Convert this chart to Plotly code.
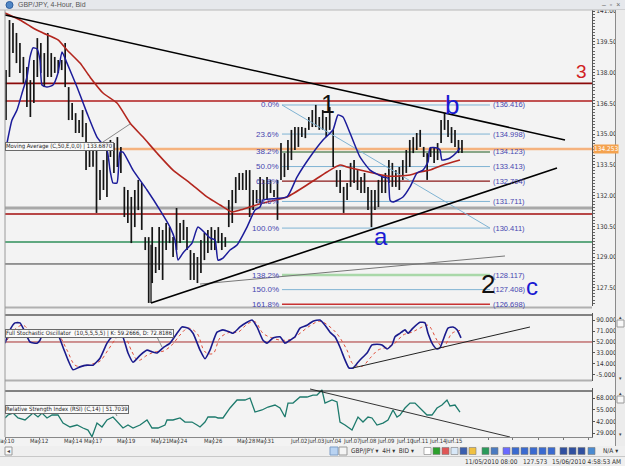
import plotly.graph_objects as go

# ---------------- data ----------------
bar_high = [138.12, 140.56, 140.41, 139.93, 139.44,
            138.76, 138.27, 137.63, 138.61, 139.68, 139.44, 138.95, 139.93, 138.95, 138.76,
            138.61, 138.61, 139.44, 137.29, 136.51, 136.02, 135.68, 136.17, 135.54, 134.22,
            134.40, 134.22, 133.24, 133.73,
            134.22, 134.71, 134.56, 134.85, 134.37, 132.42, 132.27, 131.93, 132.27, 132.76,
            132.61, 129.97, 129.97, 130.46, 129.49, 130.46, 130.32, 130.66, 130.46, 129.97,
            131.39, 130.66, 130.81, 130.46, 129.34, 129.20, 129.00, 129.83, 130.17, 130.32,
            130.46, 130.32, 130.46, 130.17, 129.97, 131.78, 132.27, 132.90, 133.10, 133.10,
            133.24, 133.24, 132.27, 132.27, 132.90, 132.76, 132.90, 132.76, 132.27, 132.76,
            134.56, 134.07, 134.71, 135.20, 135.34, 135.34, 135.34, 135.30, 135.83, 136.17,
            136.42, 135.83, 136.17, 135.83, 136.32, 135.20, 133.24, 133.24, 132.42, 132.61,
            133.59, 133.73, 133.24, 132.90, 133.10, 132.42, 132.27, 132.27, 132.76, 132.90,
            133.10, 133.73, 133.59, 133.24, 133.39, 133.73, 134.22, 134.71, 134.85, 135.05,
            135.20, 134.37, 134.07, 134.37, 134.37, 134.56, 135.68, 136.02, 135.68, 135.34,
            135.20, 134.71, 134.71]
bar_low = [135.68, 137.78, 138.95, 138.46, 137.98,
           137.49, 136.32, 135.83, 136.51, 137.78, 137.98, 137.29, 137.78, 137.78, 137.98,
           137.98, 138.12, 137.29, 135.68, 135.68, 135.05, 135.05, 134.85, 133.24, 133.39,
           133.40, 131.15, 131.78, 132.27,
           131.93, 133.88, 133.10, 133.39, 133.10, 130.95, 130.66, 129.68, 130.46, 131.29,
           130.32, 129.34, 126.76, 127.73, 128.22, 128.37, 127.88, 129.34, 129.68, 129.00,
           129.34, 129.68, 129.83, 129.34, 127.88, 127.88, 127.73, 128.22, 128.85, 129.20,
           129.34, 129.34, 129.68, 129.34, 129.49, 130.46, 130.66, 131.63, 132.27, 132.27,
           132.27, 130.95, 131.29, 131.63, 131.63, 131.78, 131.78, 132.12, 131.93, 130.81,
           132.76, 132.90, 133.24, 133.73, 134.22, 134.37, 134.85, 134.80, 135.20, 135.34,
           135.34, 135.20, 135.20, 134.85, 135.20, 133.39, 132.42, 132.12, 131.15, 131.78,
           132.42, 132.61, 132.27, 132.12, 132.12, 131.29, 130.46, 131.29, 131.44, 132.12,
           132.12, 132.61, 132.42, 132.42, 132.27, 132.76, 133.10, 133.39, 134.07, 134.22,
           134.37, 133.88, 132.76, 133.88, 133.59, 133.73, 134.56, 135.20, 134.85, 134.56,
           134.37, 134.07, 134.07]

ema50_t = [-0.29, 4.02, 7.76, 10.63, 14.94, 17.53, 21.26, 24.13, 27.87, 31.89, 35.63, 39.36,
           43.38, 47.98, 52.86, 57.75, 61.48, 64.93, 67.23, 70.10, 73.84, 80.73, 87.34, 92.22,
           95.96, 97.97, 101.70, 105.44, 109.46, 113.20, 116.07, 118.94, 121.82, 125.55, 130.43]
ema50_v = [140.90, 140.56, 140.17, 139.93, 139.59, 139.10, 138.46, 137.78, 137.00, 136.51,
           135.54, 134.85, 134.07, 133.24, 132.61, 131.93, 131.54, 131.20, 131.29, 131.44,
           131.63, 131.93, 132.61, 133.15, 133.49, 133.39, 133.24, 133.10, 132.95, 132.95,
           133.00, 133.15, 133.24, 133.49, 133.73]

fast_t = [0.29, 1.72, 3.16, 4.88, 6.03, 6.90, 7.76, 8.91, 9.77, 10.34, 11.78, 13.50, 14.94,
          16.09, 17.53, 20.40, 23.27, 26.14, 29.02, 29.88, 30.74, 31.89, 32.75, 33.61, 36.49,
          40.51, 44.24, 47.12, 48.55, 49.42, 50.85, 53.44, 55.16, 58.61, 60.05, 60.91, 62.34,
          64.36, 66.37, 69.24, 71.54, 72.97, 73.84, 80.73, 83.60, 87.34, 91.07, 93.95, 95.38,
          96.82, 98.83, 101.70, 104.58, 108.31, 109.75, 110.32, 111.19, 114.06, 116.07, 118.08,
          119.80, 121.24, 121.82, 123.83, 124.69, 125.26, 127.56, 129.57, 130.43]
fast_v = [134.56, 135.68, 136.17, 137.15, 137.78, 138.76, 139.20, 139.15, 138.61, 137.39,
          137.29, 137.39, 137.98, 139.00, 138.46, 137.29, 136.02, 134.85, 134.22, 133.24,
          132.61, 132.61, 134.12, 134.12, 133.24, 132.27, 131.29, 130.46, 129.83, 128.85,
          129.20, 129.68, 130.46, 129.93, 129.83, 128.85, 128.95, 129.34, 129.59, 130.46,
          131.29, 131.44, 131.78, 131.93, 132.90, 133.88, 134.71, 135.20, 135.93, 135.83,
          135.05, 133.88, 133.24, 132.90, 132.85, 131.78, 131.68, 131.93, 132.42, 133.10,
          133.24, 133.63, 134.32, 134.32, 134.22, 133.73, 133.83, 134.12, 134.32]

stoch_k_t = [-0.29, 1.15, 2.59, 4.02, 5.46, 6.90, 8.91, 9.77, 10.63, 14.65, 16.38, 17.81,
             19.25, 21.26, 23.27, 25.00, 27.01, 29.02, 30.45, 31.89, 33.33, 35.05, 36.49,
             38.50, 40.51, 41.95, 43.38, 45.11, 47.12, 49.13, 50.56, 52.29, 53.73, 55.74,
             57.17, 58.61, 60.62, 62.34, 64.36, 65.22, 67.23, 69.24, 70.68, 72.11, 73.84,
             74.99, 76.71, 78.72, 80.15, 81.59, 83.03, 84.47, 86.48, 88.20, 90.21, 91.65,
             93.09, 94.52, 95.96, 97.39, 98.54, 99.69, 101.13, 102.57, 103.72, 105.15, 106.59,
             108.02, 109.46, 110.90, 111.76, 113.20, 114.63, 115.49, 116.93, 118.94, 120.38,
             121.24, 122.68, 123.83, 124.69, 125.55, 126.99, 128.42, 129.57, 130.72]
stoch_k_v = [50, 73, 85, 85, 69, 52, 50, 55, 67, 67, 43, 21, 4, 9, 12, 12, 24, 50, 61, 67,
             64, 33, 17, 29, 38, 35, 33, 42, 50, 67, 78, 76, 67, 38, 23, 38, 69, 73, 69, 67,
             78, 86, 90, 78, 55, 50, 59, 61, 50, 55, 61, 76, 81, 88, 90, 81, 69, 61, 43, 21,
             7, 7, 17, 26, 33, 47, 48, 47, 40, 47, 61, 67, 73, 67, 76, 86, 85, 67, 47, 40,
             42, 55, 76, 78, 73, 59]
stoch_d_t = [0.29, 2.59, 4.88, 7.47, 9.77, 12.64, 14.94, 17.53, 19.82, 22.12, 24.71, 27.01,
             29.30, 31.89, 33.61, 36.20, 37.92, 40.51, 42.81, 45.11, 47.69, 49.99, 52.29,
             54.87, 57.17, 59.47, 61.48, 64.36, 66.65, 69.53, 71.54, 73.84, 76.42, 79.29,
             82.17, 84.47, 87.34, 90.21, 93.09, 95.38, 97.97, 99.69, 102.28, 104.58, 106.88,
             109.46, 111.76, 114.06, 116.64, 118.94, 121.24, 123.83, 125.55, 128.14, 130.43]
stoch_d_v = [55, 74, 81, 67, 64, 64, 64, 38, 12, 10, 14, 19, 38, 60, 67, 35, 20, 29, 35, 36,
             47, 64, 76, 67, 35, 32, 59, 69, 69, 84, 87, 67, 59, 55, 57, 67, 80, 88, 78, 64,
             38, 14, 10, 24, 38, 43, 50, 64, 69, 76, 81, 55, 42, 67, 72]

rsi_t = [-0.29, 0.57, 2.01, 3.45, 5.46, 6.90, 7.76, 9.19, 10.34, 11.78, 13.22, 14.94, 16.38,
         18.39, 20.40, 22.12, 23.56, 24.71, 26.14, 27.58, 29.02, 30.74, 32.18, 33.61, 35.05,
         36.49, 38.50, 40.51, 41.95, 43.67, 45.68, 46.26, 47.98, 49.99, 51.43, 53.44, 54.87,
         55.74, 57.17, 58.03, 60.05, 60.91, 62.34, 64.36, 66.37, 68.66, 70.10, 71.54, 73.55,
         75.27, 77.28, 78.72, 80.15, 81.02, 82.46, 84.47, 86.48, 88.20, 89.35, 90.79, 91.65,
         93.66, 95.10, 95.96, 97.39, 99.41, 101.13, 102.57, 104.00, 105.15, 106.59, 108.31,
         109.75, 111.19, 112.33, 113.20, 114.63, 116.07, 117.50, 118.94, 120.95, 122.39,
         123.83, 125.26, 126.70, 127.56, 129.00, 130.43]
rsi_v = [45.8, 49.1, 51.3, 45.8, 43.6, 49.1, 51.3, 46.9, 51.3, 45.8, 49.1, 49.1, 40.2, 35.8,
         38.0, 34.7, 32.4, 25.0, 40.2, 35.8, 43.6, 46.9, 41.3, 34.7, 38.0, 34.7, 38.0, 43.6,
         34.7, 34.7, 38.0, 43.6, 43.6, 45.8, 41.3, 41.3, 38.0, 35.8, 41.3, 46.9, 46.9, 45.8,
         45.8, 56.9, 65.8, 65.8, 68.0, 52.4, 54.7, 58.0, 60.2, 56.9, 46.9, 62.4, 62.4, 69.1,
         69.1, 71.3, 71.3, 76.9, 62.4, 65.8, 63.6, 41.3, 38.0, 32.4, 46.9, 41.3, 46.9, 45.8,
         38.0, 40.2, 43.6, 54.7, 46.9, 49.1, 56.9, 62.4, 62.4, 56.9, 49.1, 49.1, 56.9, 60.2,
         65.8, 59.1, 60.2, 52.4]

day_ticks = [-0.29, 9.48, 19.25, 25.00, 34.48, 44.24, 49.70, 59.47, 68.95, 74.41, 83.89,
             89.06, 93.95, 99.12, 104.00, 109.17, 114.35, 118.94, 124.11, 128.71,
             138.48, 145.66, 152.85, 160.03, 167.21]
day_labels = ["May.10", "May.12", "May.14", "May.17", "May.19", "May.21", "May.24", "May.26",
              "May.28", "May.31", "Jun.02", "Jun.03", "Jun.04", "Jun.07", "Jun.08", "Jun.09",
              "Jun.10", "Jun.11", "Jun.14", "Jun.15", "", "", "", "", ""]

levels = [137.47, 136.61, 134.27, 131.39, 131.10, 129.73, 128.66]
fib_labels = ["0.0%", "23.6%", "38.2%", "50.0%", "61.8%", "78.6%", "100.0%",
              "138.2%", "150.0%", "161.8%"]
fib_values = [136.416, 134.998, 134.123, 133.413, 132.704, 131.711, 130.411,
              128.117, 127.408, 126.698]
price_ticks = [141.0, 139.5, 138.0, 136.5, 135.0, 133.5, 132.0, 130.5, 129.0, 127.5]
stoch_ticks = [90, 71, 52, 33, 14, -5]
rsi_ticks = [68, 55, 42, 29]
last_price = 134.253
ma_value = 133.6870
stoch_k_last, stoch_d_last = 59.2666, 72.8186
rsi_last = 51.7039

trend_top_t, trend_top_v = [-0.29, 160.60], [140.81, 134.71]
trend_bot_t, trend_bot_v = [41.66, 158.30], [126.76, 133.34]
trend_thin_t, trend_thin_v = [55.74, 143.36], [127.68, 129.05]
fib_t = [79.29, 139.05]
stoch_tr_t, stoch_tr_v = [99.69, 150.54], [7.1, 77.9]
rsi_tr_t, rsi_tr_v = [87.34, 144.79], [78.0, 24.7]

wave_text = ["1", "b", "a", "2", "c", "3"]
wave_t = [92.51, 128.14, 107.74, 138.40, 151.12, 165.48]
wave_v = [136.46, 136.41, 130.02, 127.68, 127.54, 138.03]

# ---------------- layout helpers ----------------
W, H = 625, 466
ML, MR, MT, MB = 5, 33, 10, 29
PW, PH = W - ML - MR, H - MT - MB


def pxp(x):
    return (x - ML) / PW


def pyp(y):
    return (H - MB - y) / PH


NARROW = "Liberation Sans Narrow, DejaVu Sans Condensed, Arial Narrow, sans-serif"
SANS = "Liberation Sans, Arial, sans-serif"
BG = "#f3f3f3"

fig = go.Figure()

# price bars
bx, by = [], []
for i, (h, l) in enumerate(zip(bar_high, bar_low)):
    bx += [i, i, None]
    by += [l, h, None]
fig.add_trace(go.Scatter(x=bx, y=by, mode="lines", line=dict(color="#151515", width=1.7),
                         xaxis="x", yaxis="y"))
fig.add_trace(go.Scatter(x=fib_t, y=[fib_values[0], fib_values[6]], mode="lines",
                         line=dict(color="#7fb3d3", width=1), xaxis="x", yaxis="y"))
fig.add_trace(go.Scatter(x=ema50_t, y=ema50_v, mode="lines",
                         line=dict(color="#b3261e", width=1.6, shape="spline", smoothing=0.6),
                         xaxis="x", yaxis="y"))
fig.add_trace(go.Scatter(x=fast_t, y=fast_v, mode="lines",
                         line=dict(color="#1c1c9a", width=1.5, shape="spline", smoothing=0.5),
                         xaxis="x", yaxis="y"))
fig.add_trace(go.Scatter(x=trend_thin_t, y=trend_thin_v, mode="lines",
                         line=dict(color="#777777", width=1), xaxis="x", yaxis="y"))
fig.add_trace(go.Scatter(x=trend_top_t, y=trend_top_v, mode="lines",
                         line=dict(color="#000000", width=1.6), xaxis="x", yaxis="y"))
fig.add_trace(go.Scatter(x=trend_bot_t, y=trend_bot_v, mode="lines",
                         line=dict(color="#000000", width=1.6), xaxis="x", yaxis="y"))
fig.add_trace(go.Scatter(x=[trend_bot_t[0], trend_bot_t[0]], y=[trend_bot_v[0], 129.6], mode="lines",
                         line=dict(color="#000000", width=1.2), xaxis="x", yaxis="y"))

fig.add_trace(go.Scatter(x=stoch_d_t, y=stoch_d_v, mode="lines",
                         line=dict(color="#e0503c", width=1, dash="dot", shape="spline"),
                         xaxis="x", yaxis="y2"))
fig.add_trace(go.Scatter(x=stoch_k_t, y=stoch_k_v, mode="lines",
                         line=dict(color="#1a1a8c", width=1.6, shape="spline", smoothing=0.5),
                         xaxis="x", yaxis="y2"))
fig.add_trace(go.Scatter(x=stoch_tr_t, y=stoch_tr_v, mode="lines",
                         line=dict(color="#222222", width=1), xaxis="x", yaxis="y2"))
fig.add_trace(go.Scatter(x=rsi_t, y=rsi_v, mode="lines",
                         line=dict(color="#1d7a6c", width=1.3), xaxis="x", yaxis="y3"))
fig.add_trace(go.Scatter(x=rsi_tr_t, y=rsi_tr_v, mode="lines",
                         line=dict(color="#333333", width=1), xaxis="x", yaxis="y3"))

shapes = []
annotations = []

level_style = [("#8b0a0a", 1.6), ("#b01c1c", 1.6), ("#f5b27e", 2.5), ("#a8a8a8", 3),
               ("#a30d0d", 1.6), ("#2f8f5a", 1.6), ("#3a3a3a", 1)]
for v, (c, w) in zip(levels, level_style):
    shapes.append(dict(type="line", xref="paper", yref="y", x0=0, x1=1, y0=v, y1=v,
                       line=dict(color=c, width=w), layer="below"))

fib_style = [("#7fb3d3", 1), ("#7fb3d3", 1), ("#1e5a1e", 1.2), ("#7fb3d3", 1), ("#8b1a1a", 1.4),
             ("#7fb3d3", 1), ("#7fb3d3", 1), ("#a9d8a9", 2.5), ("#7fb3d3", 1), ("#c83232", 1.5)]
for lab, v, (c, w) in zip(fib_labels, fib_values, fib_style):
    shapes.append(dict(type="line", xref="x", yref="y", x0=fib_t[0], x1=fib_t[1], y0=v, y1=v,
                       line=dict(color=c, width=w), layer="below"))
    annotations.append(dict(x=fib_t[0] - 0.4, y=v, xref="x", yref="y", text=lab, showarrow=False,
                            xanchor="right", yanchor="middle",
                            font=dict(family=SANS, size=8, color="#4646b0")))
    annotations.append(dict(x=fib_t[1] + 0.2, y=v, xref="x", yref="y", text=f"({v:.3f})",
                            showarrow=False, xanchor="left", yanchor="middle",
                            font=dict(family=SANS, size=7.5, color="#4646b0")))

wave_col = ["#111111", "#1a1ad2", "#1a1ad2", "#111111", "#1a1ad2", "#d02020"]
wave_size = [25, 26, 24, 26, 24, 19]
for t, v, s, c, fs in zip(wave_t, wave_v, wave_text, wave_col, wave_size):
    annotations.append(dict(x=t, y=v, xref="x", yref="y", text=s, showarrow=False,
                            xanchor="center", yanchor="middle",
                            font=dict(family=SANS, size=fs, color=c)))

# date labels along the bottom axis
for t, lab in zip(day_ticks, day_labels):
    if lab:
        annotations.append(dict(x=t, y=pyp(441.5), xref="x", yref="paper", text=lab,
                                showarrow=False, xanchor="center", yanchor="middle",
                                font=dict(family=NARROW, size=5.8, color="#333333")))

annotations.append(dict(x=pxp(593), y=last_price, xref="paper", yref="y", text=f"{last_price:.3f}",
                        showarrow=False, xanchor="left", yanchor="middle", bgcolor="#f4a24e",
                        borderpad=0, font=dict(family=NARROW, size=6.5, color="#ffffff")))

tips = [
    (146.5, f"Moving Average (C,50,E,0,0) | {ma_value:.4f}", (100, 144, 130, 124)),
    (333, f"Full Stochastic Oscillator  (10,5,5,5,5) | K: {stoch_k_last:.4f}, D: {stoch_d_last:.4f}",
     (155, 333, 162, 347)),
    (409.5, f"Relative Strength Index (RSI) (C,14) | {rsi_last:.4f}", (113, 409, 117, 416)),
]
for yy, txt, (ax0, ay0, ax1, ay1) in tips:
    shapes.append(dict(type="line", xref="paper", yref="paper", x0=pxp(ax0), y0=pyp(ay0),
                       x1=pxp(ax1), y1=pyp(ay1), line=dict(color="#888888", width=1)))
    annotations.append(dict(x=pxp(5), y=pyp(yy), xref="paper", yref="paper", text=txt,
                            showarrow=False, xanchor="left", yanchor="middle",
                            bgcolor="#fafafa", bordercolor="#6a6a6a", borderwidth=1, borderpad=0,
                            font=dict(family=NARROW, size=5.9, color="#222222")))

for y0, c, w in [(307.5, "#b0b0b0", 2), (315, "#111111", 1), (380.5, "#b0b0b0", 2), (391, "#111111", 1)]:
    shapes.append(dict(type="line", xref="paper", yref="paper", x0=0, x1=1, y0=pyp(y0), y1=pyp(y0),
                       line=dict(color=c, width=w)))
shapes.append(dict(type="line", xref="paper", yref="paper", x0=0, x1=0, y0=0, y1=1,
                   line=dict(color="#9a9a9a", width=1)))
shapes.append(dict(type="line", xref="paper", yref="y2", x0=0, x1=1, y0=52, y1=52,
                   line=dict(color="#a83030", width=1), layer="below"))

# window chrome: title bar
shapes.append(dict(type="rect", xref="paper", yref="paper", x0=pxp(0), x1=pxp(625), y0=pyp(10),
                   y1=pyp(0), fillcolor="#e6e8ec", line=dict(width=0)))
shapes.append(dict(type="line", xref="paper", yref="paper", x0=pxp(0), x1=pxp(625), y0=pyp(10),
                   y1=pyp(10), line=dict(color="#b8b8b8", width=1)))
shapes.append(dict(type="circle", xref="paper", yref="paper", x0=pxp(6), x1=pxp(13), y0=pyp(8.5),
                   y1=pyp(1.5), fillcolor="#4f86c6", line=dict(color="#2e5e9e", width=1)))
annotations.append(dict(x=pxp(16), y=pyp(5), xref="paper", yref="paper", text="GBP/JPY, 4-Hour, Bid",
                        showarrow=False, xanchor="left", yanchor="middle",
                        font=dict(family=SANS, size=7, color="#555555")))
annotations.append(dict(x=pxp(622), y=pyp(5), xref="paper", yref="paper", text="–  ▫  ×",
                        showarrow=False, xanchor="right", yanchor="middle",
                        font=dict(family=SANS, size=7, color="#666666")))
shapes.append(dict(type="rect", xref="paper", yref="paper", x0=pxp(615.5), x1=pxp(626), y0=pyp(446),
                   y1=pyp(10), fillcolor="#ececec", line=dict(width=0)))
shapes.append(dict(type="line", xref="paper", yref="paper", x0=pxp(615.5), x1=pxp(615.5), y0=pyp(446),
                   y1=pyp(10), line=dict(color="#8a8a8a", width=1)))
for top, bot in [(315, 381), (391, 437)]:
    shapes.append(dict(type="rect", xref="paper", yref="paper", x0=pxp(617), x1=pxp(624), y0=pyp(top + 12),
                       y1=pyp(top + 5), fillcolor="#f7f7f7", line=dict(color="#9a9a9a", width=1)))
    annotations.append(dict(x=pxp(620.5), y=pyp(top + 1.5), xref="paper", yref="paper", text="▴",
                            showarrow=False, xanchor="center", yanchor="middle",
                            font=dict(size=5, color="#444444")))
    annotations.append(dict(x=pxp(620.5), y=pyp(bot - 3), xref="paper", yref="paper", text="▾",
                            showarrow=False, xanchor="center", yanchor="middle",
                            font=dict(size=5, color="#444444")))

shapes.append(dict(type="rect", xref="paper", yref="paper", x0=pxp(0), x1=pxp(626), y0=pyp(466),
                   y1=pyp(446), fillcolor="#efefef", line=dict(width=0)))
shapes.append(dict(type="line", xref="paper", yref="paper", x0=pxp(0), x1=pxp(626), y0=pyp(456.5),
                   y1=pyp(456.5), line=dict(color="#c8c8c8", width=1)))
shapes.append(dict(type="rect", xref="paper", yref="paper", x0=pxp(5), x1=pxp(12), y0=pyp(455),
                   y1=pyp(447), fillcolor="#f8f8f8", line=dict(color="#999999", width=1)))
annotations.append(dict(x=pxp(8.5), y=pyp(451), xref="paper", yref="paper", text="◂",
                        showarrow=False, xanchor="center", yanchor="middle",
                        font=dict(size=6, color="#444444")))
shapes.append(dict(type="rect", xref="paper", yref="paper", x0=pxp(330), x1=pxp(338), y0=pyp(455),
                   y1=pyp(447), fillcolor="#b9d3f2", line=dict(color="#7f9fc8", width=1)))
shapes.append(dict(type="rect", xref="paper", yref="paper", x0=pxp(339), x1=pxp(347), y0=pyp(455),
                   y1=pyp(447), fillcolor="#f4f4f4", line=dict(color="#999999", width=1)))
annotations.append(dict(x=pxp(349), y=pyp(451), xref="paper", yref="paper",
                        text="GBP/JPY ▾  4H ▾  BID ▾", showarrow=False, xanchor="left", yanchor="middle",
                        font=dict(family=NARROW, size=6.5, color="#333333")))
icon_cols = ["#ffffff", "#2ca02c", "#e05656", "#d8e8f8", "#3b5fae", "#f0c040", "#2a9a5a",
             "#4a7ac0", "#6a6aff", "#3a6ad0", "#3a6ad0", "#3a6ad0", "#3a6ad0", "#3a6ad0",
             "#3050a0", "#3050a0", "#3050a0", "#4a8ad0"]
icon_x = [424, 433, 442, 451, 460, 469, 482, 491, 503, 512, 521, 530, 539, 548, 560, 569, 578, 588]
for c, x0 in zip(icon_cols, icon_x):
    shapes.append(dict(type="rect", xref="paper", yref="paper", x0=pxp(x0), x1=pxp(x0 + 7),
                       y0=pyp(454.5), y1=pyp(447.5), fillcolor=c, line=dict(color="#7a7a7a", width=0.6)))
annotations.append(dict(x=pxp(601), y=pyp(451), xref="paper", yref="paper", text="N/A ▾",
                        showarrow=False, xanchor="left", yanchor="middle",
                        font=dict(family=NARROW, size=6.5, color="#333333")))
annotations.append(dict(x=pxp(463), y=pyp(461.5), xref="paper", yref="paper",
                        text="11/05/2010 08:00   127.573", showarrow=False, xanchor="left", yanchor="middle",
                        font=dict(family=NARROW, size=6.5, color="#333333")))
annotations.append(dict(x=pxp(550), y=pyp(461.5), xref="paper", yref="paper",
                        text="15/06/2010 4:58:53 AM", showarrow=False, xanchor="left", yanchor="middle",
                        font=dict(family=NARROW, size=6.5, color="#333333")))

axis_common = dict(showgrid=False, zeroline=False, side="right", anchor="x", ticks="outside",
                   ticklen=2, tickcolor="#555555", showline=True, linecolor="#555555", linewidth=1,
                   tickfont=dict(family=NARROW, size=6.5, color="#333333"), tickmode="array")

fig.update_layout(
    width=W, height=H, autosize=False,
    margin=dict(l=ML, r=MR, t=MT, b=MB),
    paper_bgcolor=BG, plot_bgcolor=BG,
    showlegend=False, hovermode=False,
    xaxis=dict(domain=[0, 1], range=[-0.29, 168.36], anchor="y3", showgrid=False, zeroline=False,
               tickmode="array", tickvals=day_ticks, showticklabels=False, ticks="outside",
               ticklen=2, tickcolor="#777777", showline=True, linecolor="#888888"),
    yaxis=dict(domain=[pyp(306), 1], range=[126.61, 141.05], tickvals=price_ticks,
               ticktext=[f"{v:.3f}" for v in price_ticks],
               minor=dict(ticks="outside", ticklen=2, dtick=0.15, tick0=0, tickcolor="#666666"),
               **axis_common),
    yaxis2=dict(domain=[pyp(381), pyp(313)], range=[-15.4, 102.1], tickvals=stoch_ticks,
                ticktext=[f"{v:.3f}" for v in stoch_ticks], **axis_common),
    yaxis3=dict(domain=[0, pyp(388)], range=[24.7, 79.1], tickvals=rsi_ticks,
                ticktext=[f"{v:.3f}" for v in rsi_ticks], **axis_common),
    shapes=shapes, annotations=annotations,
)

fig.write_html("out.html")
